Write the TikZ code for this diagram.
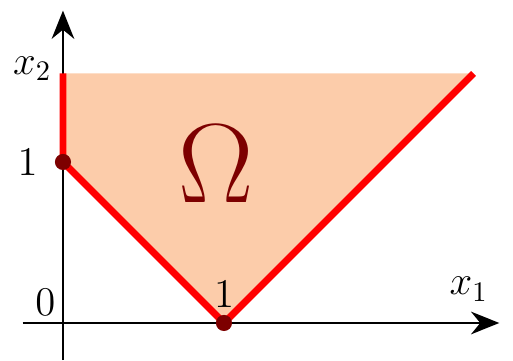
\documentclass[tikz,border=0pt]{standalone}
\usepackage{amsmath,amssymb}
\usepackage{xcolor}
\usetikzlibrary{arrows.meta}
\definecolor{omfill}{RGB}{252,204,170}
\definecolor{omred}{RGB}{255,0,0}
\definecolor{omdark}{RGB}{125,0,0}

\begin{document}
\begin{tikzpicture}[scale=2]
  \useasboundingbox (-0.391,-0.230) rectangle (2.795,2.006);
  % region Omega: above |x_1 - 1| with x_1 >= 0, cut at x_2 = 1.55
  \fill[omfill] (0,1.55) -- (0,1) -- (1,0) -- (2.55,1.55) -- cycle;
  % axes
  \draw[line width=0.7pt,-{Stealth[length=10pt,width=8pt]}] (-0.25,0) -- (2.71,0);
  \draw[line width=0.7pt,-{Stealth[length=10pt,width=8pt]}] (0,-0.23) -- (0,1.94);
  \draw[line width=0.7pt] (-0.03,1) -- (0.03,1);
  \draw[line width=0.7pt] (1,-0.03) -- (1,0.03);
  % boundary
  \draw[omred,line width=2.4pt] (0,1.55) -- (0,1) -- (1,0) -- (2.55,1.55);
  \coordinate (p1) at (0,1);
  \coordinate (p2) at (1,0);
  \fill[omdark] (p1) circle (0.05);
  \fill[omdark] (p2) circle (0.05);
  % labels
  \node[font=\Large] (lx2) at (-0.19,1.58) {$x_2$};
  \node[font=\Large] (lx1) at (2.52,0.21) {$x_1$};
  \node[font=\Large] (l0) at (-0.11,0.13) {$0$};
  \node[font=\Large] (ly1) at (-0.22,1.0) {$1$};
  \node[font=\Large] (lxone) at (1.0,0.18) {$1$};
  \node[omdark,font=\Huge,scale=1.6] (om) at (0.95,0.99) {$\Omega$};
\end{tikzpicture}
\end{document}
